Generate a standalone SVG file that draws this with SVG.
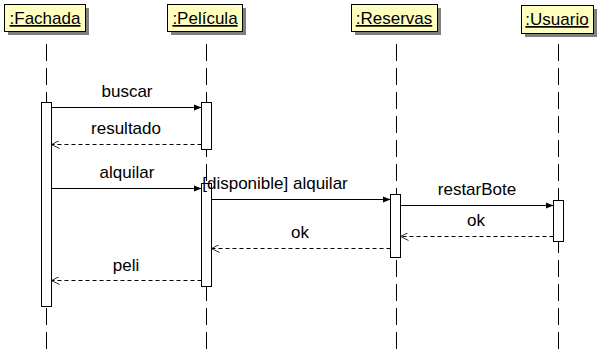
<svg xmlns="http://www.w3.org/2000/svg" width="615" height="353" viewBox="0 0 615 353">
  <style>
    .head { fill: #ffffc0; stroke: #000; stroke-width: 1; }
    .shadow { fill: #808080; }
    .name { font-family: "Liberation Sans", Arial, sans-serif; font-size: 17px; fill: #000; text-anchor: middle; text-decoration: underline; }
    .life { stroke: #000; stroke-width: 1; stroke-dasharray: 17 7; fill: none; }
    .act { fill: #fff; stroke: #000; stroke-width: 1; }
    .call { stroke: #000; stroke-width: 1; fill: none; marker-end: url(#solid); }
    .ret { stroke: #000; stroke-width: 1; stroke-dasharray: 4 3; fill: none; marker-end: url(#open); }
    .lbl { font-family: "Liberation Sans", Arial, sans-serif; font-size: 17px; fill: #000; text-anchor: middle; }
  </style>
  <defs>
    <marker id="solid" viewBox="0 0 10 10" refX="10" refY="5" markerWidth="8" markerHeight="8" markerUnits="userSpaceOnUse" orient="auto">
      <path d="M0,1 L10,5 L0,9 Z" fill="#000"/>
    </marker>
    <marker id="open" viewBox="0 0 10 10" refX="10" refY="5" markerWidth="8" markerHeight="8" markerUnits="userSpaceOnUse" orient="auto">
      <path d="M0,0 L10,5 L0,10" fill="none" stroke="#000" stroke-width="1"/>
    </marker>
  </defs>

  <!-- lifelines -->
  <g id="lifelines">
    <line class="life" x1="46.5" y1="44" x2="46.5" y2="352"/>
    <line class="life" x1="206.5" y1="44" x2="206.5" y2="352"/>
    <line class="life" x1="396.5" y1="44" x2="396.5" y2="352"/>
    <line class="life" x1="558.5" y1="44" x2="558.5" y2="352"/>
  </g>

  <!-- participants -->
  <g id="fachada">
    <rect class="shadow" x="8" y="8" width="81" height="27"/>
    <rect class="head" x="4.5" y="4.5" width="81" height="27"/>
    <text class="name" x="45" y="24">:Fachada</text>
    <rect class="act" x="41.5" y="102.5" width="10" height="204"/>
  </g>
  <g id="pelicula">
    <rect class="shadow" x="171" y="8" width="75" height="27"/>
    <rect class="head" x="167.5" y="4.5" width="75" height="27"/>
    <text class="name" x="205" y="24">:Película</text>
    <rect class="act" x="201.5" y="102.5" width="10" height="47"/>
    <rect class="act" x="201.5" y="183.5" width="10" height="103"/>
  </g>
  <g id="reservas">
    <rect class="shadow" x="355" y="8" width="86" height="27"/>
    <rect class="head" x="351.5" y="4.5" width="86" height="27"/>
    <text class="name" x="394" y="24">:Reservas</text>
    <rect class="act" x="390.5" y="194.5" width="10" height="63"/>
  </g>
  <g id="usuario">
    <rect class="shadow" x="525" y="9" width="72" height="28"/>
    <rect class="head" x="521.5" y="5.5" width="72" height="28"/>
    <text class="name" x="557" y="25">:Usuario</text>
    <rect class="act" x="553.5" y="200.5" width="10" height="41"/>
  </g>

  <!-- messages -->
  <g id="connectors">
    <line class="call" x1="51.5" y1="107.5" x2="201.5" y2="107.5"/>
    <line class="ret" x1="201.5" y1="144.5" x2="51.5" y2="144.5"/>
    <line class="call" x1="51.5" y1="188.5" x2="201.5" y2="188.5"/>
    <line class="call" x1="211.5" y1="199.5" x2="390.5" y2="199.5"/>
    <line class="call" x1="400.5" y1="205.5" x2="553.5" y2="205.5"/>
    <line class="ret" x1="553.5" y1="236.5" x2="400.5" y2="236.5"/>
    <line class="ret" x1="390.5" y1="248.5" x2="211.5" y2="248.5"/>
    <line class="ret" x1="201.5" y1="280.5" x2="51.5" y2="280.5"/>
  </g>

  <g id="labels">
    <text class="lbl" x="127" y="97">buscar</text>
    <text class="lbl" x="126" y="134">resultado</text>
    <text class="lbl" x="127" y="178">alquilar</text>
    <text class="lbl" x="275" y="189">[disponible] alquilar</text>
    <text class="lbl" x="477" y="195">restarBote</text>
    <text class="lbl" x="476" y="226">ok</text>
    <text class="lbl" x="300" y="238">ok</text>
    <text class="lbl" x="126" y="271">peli</text>
  </g>
</svg>
